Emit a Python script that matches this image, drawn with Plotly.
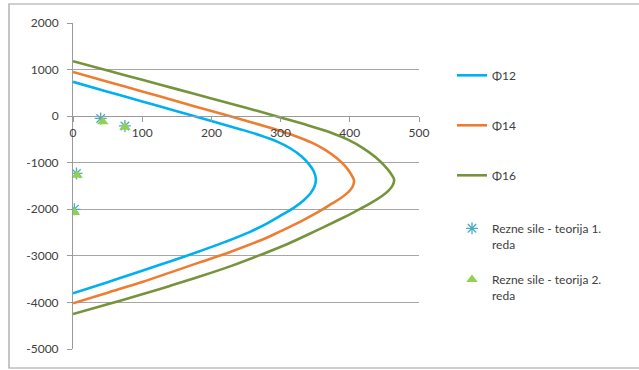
import plotly.graph_objects as go

# Interaction curves (x = M, y = N)
phi12_x = [0, 50, 100, 150, 200, 240, 270, 295, 315, 330, 341, 348, 351,
           349, 343, 333, 320, 303, 282, 255, 220, 183, 140, 100, 50, 0]
phi12_y = [736, 526, 316, 106, -104, -274, -410, -548, -700, -860, -1030, -1190, -1350,
           -1510, -1660, -1810, -1960, -2110, -2290, -2490, -2700, -2900, -3120, -3320, -3565, -3805]

phi14_x = [0, 50, 100, 150, 200, 250, 290, 320, 345, 365, 381, 393, 401, 406,
           405, 401, 394, 385, 374, 362, 348, 328, 300, 280, 230, 183, 140, 100, 50, 0]
phi14_y = [950, 740, 530, 320, 110, -100, -272, -420, -570, -730, -900, -1070, -1230, -1370,
           -1480, -1580, -1680, -1780, -1880, -1990, -2110, -2270, -2470, -2610, -2900, -3140, -3360, -3560, -3790, -4020]

phi16_x = [0, 50, 100, 150, 200, 250, 300, 340, 372, 398, 419, 436, 449, 458, 464,
           462, 456, 447, 435, 421, 405, 385, 350, 310, 270, 230, 183, 140, 100, 50, 0]
phi16_y = [1180, 980, 780, 580, 380, 180, -30, -200, -350, -510, -685, -865, -1045, -1205, -1360,
           -1485, -1600, -1710, -1825, -1945, -2070, -2220, -2470, -2745, -2985, -3210, -3445, -3645, -3825, -4040, -4250]

t1_x = [40, 75, 5, 2]
t1_y = [-50, -210, -1230, -2000]
t2_x = [43, 75, 6, 2]
t2_y = [-120, -240, -1270, -2070]

x_ticks = [0, 100, 200, 300, 400, 500]
y_ticks = [2000, 1000, 0, -1000, -2000, -3000, -4000, -5000]

FONT = "Lato"
TXT = "#404040"
fig = go.Figure()
for name, xs, ys, col in [("Φ12", phi12_x, phi12_y, "#00B0F0"),
                          ("Φ14", phi14_x, phi14_y, "#ED7D31"),
                          ("Φ16", phi16_x, phi16_y, "#77933C")]:
    fig.add_trace(go.Scatter(x=xs, y=ys, mode="lines", name=name, legendgroup=name,
                             line=dict(color=col, width=2.6, shape="spline", smoothing=1.0)))

fig.add_trace(go.Scatter(x=t1_x, y=t1_y, mode="markers", name="Rezne sile - teorija 1.<br>reda",
                         legendgroup="t1", legend="legend2",
                         marker=dict(symbol="asterisk-open", size=10, color="#4BACC6",
                                     line=dict(color="#4BACC6", width=1.3))))
fig.add_trace(go.Scatter(x=t2_x, y=t2_y, mode="markers", name="Rezne sile - teorija 2.<br>reda",
                         legendgroup="t2", legend="legend2",
                         marker=dict(symbol="triangle-up", size=10, color="#92D050")))

L, R, T, B = 73, 220, 23, 21
W, H = 639, 370
pw, ph = W - L - R, H - T - B

legfont = dict(family=FONT, size=12, color=TXT)
fig.update_layout(
    width=W, height=H,
    margin=dict(l=L, r=R, t=T, b=B),
    paper_bgcolor="white", plot_bgcolor="white",
    font=dict(family=FONT, size=12, color=TXT),
    showlegend=True,
    legend=dict(x=(452 - L) / pw, y=(H - B - 61) / ph, xanchor="left", yanchor="top",
                tracegroupgap=31, valign="top", font=legfont, bgcolor="rgba(0,0,0,0)"),
    legend2=dict(x=(452 - L) / pw, y=(H - B - 214) / ph, xanchor="left", yanchor="top",
                 tracegroupgap=17, valign="top", font=legfont, bgcolor="rgba(0,0,0,0)"),
    xaxis=dict(range=[0, 500], tickvals=x_ticks, ticktext=[str(v) for v in x_ticks],
               showgrid=False, zeroline=False, showline=True, linecolor="#9a9a9a", linewidth=1,
               ticks="outside", ticklen=5, tickcolor="#9a9a9a",
               anchor="free", position=5 / 7),
    yaxis=dict(range=[-5000, 2000], tickvals=y_ticks, ticktext=[str(v) for v in y_ticks],
               showgrid=True, gridcolor="#a6a6a6", gridwidth=1, zeroline=False,
               showline=True, linecolor="#9a9a9a", linewidth=1,
               ticks="outside", ticklen=5, tickcolor="#9a9a9a", ticklabelstandoff=6),
    shapes=[dict(type="rect", xref="paper", yref="paper",
                 x0=(9 - L) / pw, x1=(640 - L) / pw,
                 y0=(H - B - 368) / ph, y1=(H - B - 4) / ph,
                 line=dict(color="#a0a0a0", width=1.2), fillcolor="rgba(0,0,0,0)", layer="below")],
)

fig.write_html("out.html", config={"displayModeBar": False},
               post_script="document.body.style.margin='0';document.body.style.overflow='hidden';")
